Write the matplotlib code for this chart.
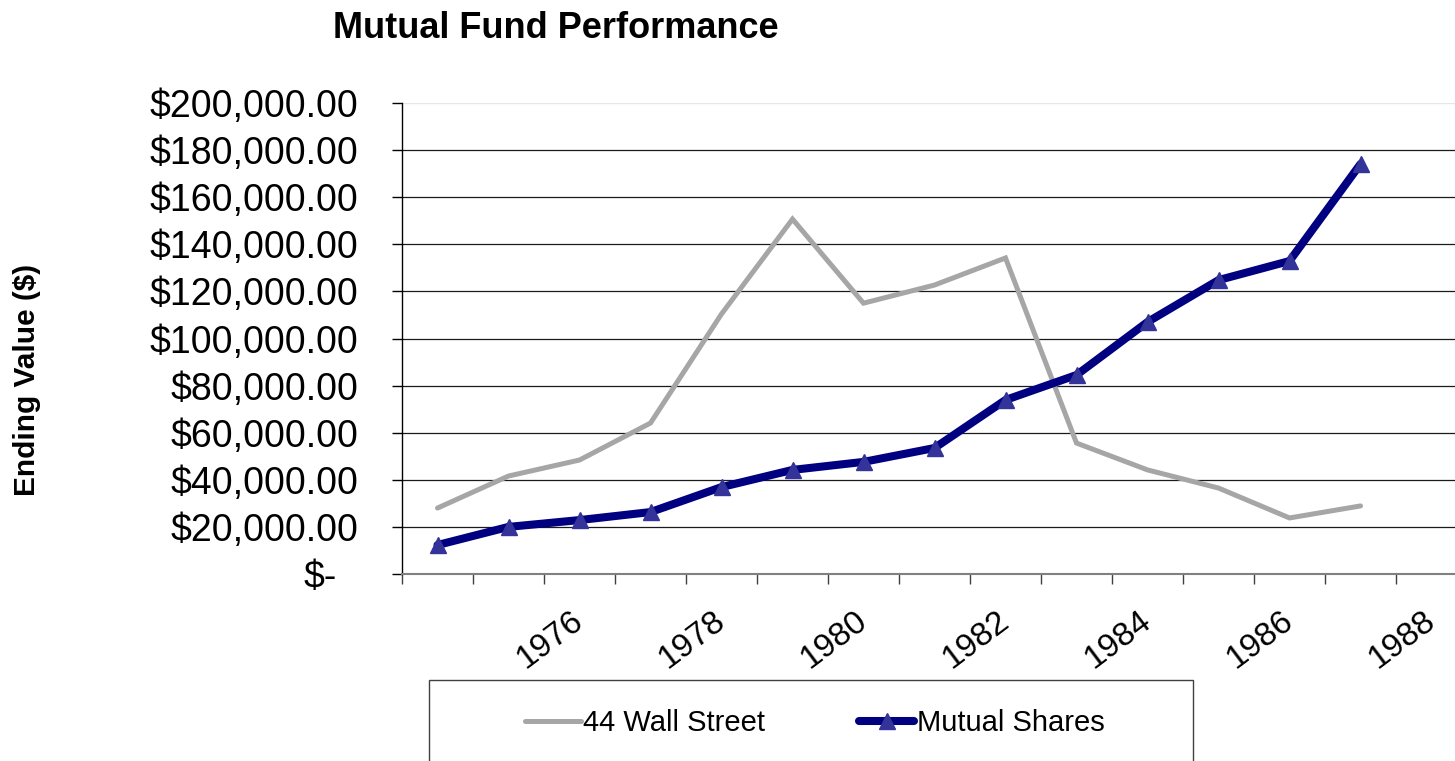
import matplotlib
matplotlib.use("Agg")
import matplotlib.pyplot as plt
from matplotlib.patches import Rectangle
from matplotlib.lines import Line2D
import matplotlib.ticker as mticker

plt.rcParams['font.family'] = ['Liberation Sans', 'DejaVu Sans']

# ---- data ----
years = list(range(1974, 1989))
wall_street = [28000, 41600, 48400, 64100, 110400, 150700, 115000, 122700,
               134200, 55600, 44200, 36500, 23800, 28900]
mutual_shares = [12300, 20000, 22900, 26300, 36900, 44200, 47600, 53500,
                 73900, 84500, 107000, 124800, 132900, 174100]
label_years = [1976, 1978, 1980, 1982, 1984, 1986, 1988]
y_ticks = list(range(0, 200001, 20000))
series_names = ["44 Wall Street", "Mutual Shares"]

W, H = 1455, 761
fig = plt.figure(figsize=(W / 100, H / 100), dpi=100)
ax = fig.add_axes([402 / W, 1 - 574 / H, (1467 - 402) / W, (574 - 103) / H])

x_ws = list(range(len(wall_street)))
x_ms = list(range(len(mutual_shares)))

ax.plot(x_ws, wall_street, color='#A6A6A6', lw=3.6, solid_capstyle='round',
        solid_joinstyle='miter', zorder=3)
ax.plot(x_ms, mutual_shares, color='#000080', lw=5.8, marker='^', markersize=11,
        markerfacecolor='#333399', markeredgecolor='#333399',
        solid_capstyle='round', zorder=4)

ax.set_xlim(-0.5, len(years) - 0.5)
ax.set_ylim(0, 200000)

# gridlines
for v in y_ticks[1:-1]:
    ax.axhline(v, color='#1a1a1a', lw=0.9, zorder=1)
ax.axhline(200000, color='#E6E6E6', lw=1.0, zorder=1)

# spines
for s in ['top', 'right']:
    ax.spines[s].set_visible(False)
ax.spines['left'].set_color('black')
ax.spines['left'].set_linewidth(1.0)
ax.spines['bottom'].set_color('#808080')
ax.spines['bottom'].set_linewidth(1.5)

# x ticks
ax.set_xticks([i - 0.5 for i in range(len(years) + 1)])
ax.set_xticklabels([])
ax.set_xticks([years.index(y) for y in label_years], minor=True)
ax.set_xticklabels([str(y) for y in label_years], minor=True, rotation=37,
                   ha='right', va='center', rotation_mode='anchor', fontsize=24)
ax.tick_params(axis='x', which='major', direction='out', length=7.2, width=1.0,
               color='#404040')
ax.tick_params(axis='x', which='minor', length=0, pad=31)

# y ticks
ax.set_yticks(y_ticks)
ax.yaxis.set_major_formatter(mticker.FuncFormatter(
    lambda v, p: "$-" if v == 0 else "${:,.2f}".format(v)))
ax.tick_params(axis='y', direction='out', length=7.2, width=1.0, color='black',
               labelsize=27, pad=24.5)
ax.yaxis.get_major_ticks()[0].set_pad(39.5)

# titles
fig.text(556 / W, 1 - 28 / H, "Mutual Fund Performance", ha='center', va='center',
         fontsize=26, fontweight='bold')
fig.text(27 / W, 1 - 380 / H, "Ending Value ($)", ha='center', va='center',
         rotation=90, fontsize=21.5, fontweight='bold')

# legend box (extends past bottom edge)
fig.patches.append(Rectangle((429 / W, -0.05), (1193 - 429) / W, (1 - 680 / H) + 0.05,
                             transform=fig.transFigure, facecolor='white',
                             edgecolor='#404040', lw=1.0, zorder=0))
handles = [Line2D([], [], color='#A6A6A6', lw=3.6, solid_capstyle='round'),
           Line2D([], [], color='#000080', lw=5.8, marker='^', markersize=11,
                  markerfacecolor='#333399', markeredgecolor='#333399',
                  solid_capstyle='round')]
fig.legend(handles, series_names, loc='center', bbox_to_anchor=(815 / W, 1 - 723 / H),
           ncol=2, frameon=False, fontsize=21, handlelength=1.9, handletextpad=0.1,
           columnspacing=3.2, borderpad=0)

fig.savefig("out.png", dpi=100)
